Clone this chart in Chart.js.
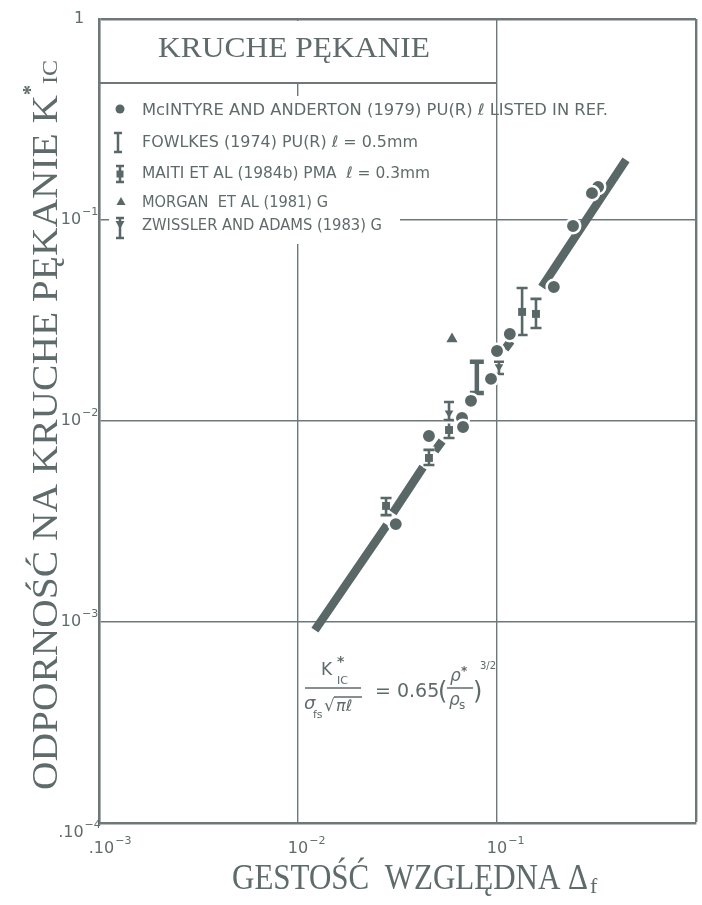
<!DOCTYPE html>
<html>
<head>
<meta charset="utf-8">
<script src="https://cdn.jsdelivr.net/npm/chart.js@4.4.0/dist/chart.umd.min.js"></script>
<style>
  html, body { margin: 0; padding: 0; background: #fff; }
  canvas { display: block; }
</style>
</head>
<body>
<canvas id="kruche" width="702" height="905"></canvas>
<script>
// tick values and labels (base + exponent)
const xTickVals = [0.001, 0.01, 0.1, 1];
const xTickBase = ['.10', '10', '10', ''];
const xTickExp = ['\u22123', '\u22122', '\u22121', ''];
const yTickVals = [1, 0.1, 0.01, 0.001, 0.0001];
const yTickBase = ['1', '10', '10', '10', '.10'];
const yTickExp = ['', '\u22121', '\u22122', '\u22123', '\u22124'];

// McIntyre and Anderton (1979) - filled circles
const mcintyreX = [0.322, 0.300, 0.241, 0.193, 0.116, 0.100, 0.0933, 0.0740, 0.0667, 0.0675, 0.0455, 0.0310];
const mcintyreY = [0.146, 0.136, 0.0933, 0.0464, 0.0271, 0.0223, 0.0162, 0.0126, 0.01035, 0.00933, 0.00842, 0.00307];

// Fowlkes (1974) - plain error bar
const fowlkesX = [0.0792];
const fowlkesLo = [0.01378];
const fowlkesHi = [0.0197];

// Maiti et al (1984b) - error bar with square
const maitiX = [0.0277, 0.0455, 0.0574, 0.1337, 0.157];
const maitiY = [0.00378, 0.00655, 0.00902, 0.0349, 0.0341];
const maitiLo = [0.0034, 0.00604, 0.00823, 0.0268, 0.0290];
const maitiHi = [0.00414, 0.00718, 0.0101, 0.0459, 0.0405];

// Morgan et al (1981) - triangle
const morganX = [0.0594];
const morganY = [0.0256];

// Zwissler and Adams (1983) - error bar with down triangle
const zwisslerX = [0.0574, 0.1023];
const zwisslerY = [0.01096, 0.0186];
const zwisslerLo = [0.0101, 0.01714];
const zwisslerHi = [0.01244, 0.0197];

// fitted line, visible pieces (null = break)
const fitX = [0.01216, 0.0280, null, 0.0300, 0.0425, null, 0.0487, 0.0530, null, 0.1096, 0.1175, null, 0.168, 0.445];
const fitY = [0.000912, 0.00304, null, 0.00349, 0.00590, null, 0.00709, 0.00795, null, 0.0228, 0.0250, null, 0.0464, 0.199];

const INK = '#5a6767';
const TEXT = '#5f6b6b';
const GRID = '#6e7878';

const pts = (xs, ys) => xs.map((x, i) => ({ x: x, y: ys[i] }));

function fitText(ctx, text, x, y, w, font) {
    ctx.font = font;
    const m = ctx.measureText(text).width;
    ctx.save();
    ctx.translate(x, y);
    ctx.scale(w / m, 1);
    ctx.fillText(text, 0, 0);
    ctx.restore();
}

function errorBar(ctx, x, yTop, yBot, half, width) {
    ctx.lineCap = 'butt';
    [['#fff', width + 4], [INK, width]].forEach(([c, lw]) => {
        ctx.strokeStyle = c;
        ctx.lineWidth = lw;
        ctx.beginPath();
        ctx.moveTo(x, yTop); ctx.lineTo(x, yBot);
        ctx.moveTo(x - half, yTop); ctx.lineTo(x + half, yTop);
        ctx.moveTo(x - half, yBot); ctx.lineTo(x + half, yBot);
        ctx.stroke();
    });
}

function tri(ctx, x, y, r, down) {
    const s = down ? -1 : 1;
    ctx.beginPath();
    ctx.moveTo(x, y - s * r);
    ctx.lineTo(x + r * 0.9, y + s * r * 0.6);
    ctx.lineTo(x - r * 0.9, y + s * r * 0.6);
    ctx.closePath();
    ctx.fill();
}

function drawErrorBars(chart) {
    const ctx = chart.ctx, xs = chart.scales.x, ys = chart.scales.y;
    ctx.save();
    fowlkesX.forEach((v, i) => {
        errorBar(ctx, xs.getPixelForValue(v), ys.getPixelForValue(fowlkesHi[i]), ys.getPixelForValue(fowlkesLo[i]), 7, 4.5);
    });
    maitiX.forEach((v, i) => {
        errorBar(ctx, xs.getPixelForValue(v), ys.getPixelForValue(maitiHi[i]), ys.getPixelForValue(maitiLo[i]), 5.5, 2.6);
    });
    zwisslerX.forEach((v, i) => {
        errorBar(ctx, xs.getPixelForValue(v), ys.getPixelForValue(zwisslerHi[i]), ys.getPixelForValue(zwisslerLo[i]), 5, 2.6);
    });
    ctx.restore();
}

// label like 10^-2: centre of the whole label at cx, or centre of "10" at cx
function drawPow(ctx, base, exp, cx, baseY, align) {
    const big = '16px "DejaVu Sans"', small = '11px "DejaVu Sans"';
    ctx.font = big;
    const bw = ctx.measureText(base).width;
    const tw = ctx.measureText('10').width;
    ctx.font = small;
    const ew = ctx.measureText(exp).width;
    const x0 = align === 'center' ? cx - (bw + ew) / 2 : cx - tw / 2 - (bw - tw);
    ctx.font = big;
    ctx.fillText(base, x0, baseY);
    ctx.font = small;
    ctx.fillText(exp, x0 + bw + 1, baseY - 9);
}

const overlay = {
    id: 'overlay',
    beforeDatasetsDraw(chart) {
        const ctx = chart.ctx;
        ctx.save();
        ctx.fillStyle = '#fff';
        ctx.fillRect(101, 21, 394, 61);     // title box
        ctx.fillRect(109, 96, 291, 148);    // legend area
        ctx.strokeStyle = GRID;
        ctx.lineWidth = 1.8;
        ctx.beginPath();
        ctx.moveTo(99, 83); ctx.lineTo(497, 83);
        ctx.stroke();
        ctx.restore();
    },
    afterDatasetDraw(chart, args) {
        if (args.index === 0) drawErrorBars(chart);
    },
    afterDraw(chart) {
        const ctx = chart.ctx, xs = chart.scales.x, ys = chart.scales.y;
        ctx.save();
        ctx.fillStyle = TEXT;
        ctx.textBaseline = 'alphabetic';
        ctx.textAlign = 'left';

        // tick labels
        yTickVals.forEach((v, i) => {
            const gy = ys.getPixelForValue(v);
            const by = i === yTickVals.length - 1 ? gy + 14 : gy + 4;
            drawPow(ctx, yTickBase[i], yTickExp[i], 79, by, 'center');
        });
        xTickVals.forEach((v, i) => {
            if (!xTickBase[i]) return;
            const gx = xs.getPixelForValue(v);
            drawPow(ctx, xTickBase[i], xTickExp[i], i === 0 ? gx + 5 : gx, 853, 'base');
        });

        // title in box
        fitText(ctx, 'KRUCHE PĘKANIE', 158, 57, 272, '30px "Liberation Serif"');

        // axis titles
        fitText(ctx, 'GESTOŚĆ  WZGLĘDNA Δ', 232, 889, 356, '36px "Liberation Serif"');
        ctx.font = '22px "Liberation Serif"';
        ctx.fillText('f', 590, 893);

        ctx.save();
        ctx.translate(57, 790);
        ctx.rotate(-Math.PI / 2);
        fitText(ctx, 'ODPORNOŚĆ NA KRUCHE PĘKANIE K', 0, 0, 695, '36px "Liberation Serif"');
        ctx.font = 'bold 20px "Liberation Serif"';
        ctx.fillText('*', 695, -20);
        fitText(ctx, 'IC', 706, 0, 24, '20px "Liberation Serif"');
        ctx.restore();

        // legend
        const rows = [
            ['McINTYRE AND ANDERTON (1979) PU(R) ℓ LISTED IN REF.', 115, 466],
            ['FOWLKES (1974) PU(R) ℓ = 0.5mm', 147, 276],
            ['MAITI ET AL (1984b) PMA  ℓ = 0.3mm', 178, 288],
            ['MORGAN  ET AL (1981) G', 207, 186],
            ['ZWISSLER AND ADAMS (1983) G', 230, 240]
        ];
        rows.forEach(r => fitText(ctx, r[0], 142, r[1], r[2], '16px "DejaVu Sans"'));

        ctx.fillStyle = INK;
        ctx.beginPath(); ctx.arc(120, 109, 4.5, 0, Math.PI * 2); ctx.fill();
        errorBar(ctx, 118, 133, 152, 4, 2.5);
        errorBar(ctx, 120, 166, 182, 4, 2.5);
        ctx.fillStyle = INK;
        ctx.fillRect(116.5, 170.5, 7, 7);
        tri(ctx, 121, 202, 5, false);
        errorBar(ctx, 120, 218, 238, 4, 2.5);
        ctx.fillStyle = INK;
        tri(ctx, 120, 224, 5, true);

        // equation
        ctx.fillStyle = TEXT;
        ctx.strokeStyle = TEXT;
        ctx.lineWidth = 1.5;
        ctx.font = '17px "DejaVu Sans"';
        ctx.fillText('K', 321, 675);
        ctx.font = 'bold 14px "DejaVu Sans"';
        ctx.fillText('*', 337, 666);
        ctx.font = '11px "DejaVu Sans"';
        ctx.fillText('IC', 337, 684);
        ctx.beginPath(); ctx.moveTo(305, 688); ctx.lineTo(361, 688); ctx.stroke();
        ctx.font = 'italic 18px "DejaVu Sans"';
        ctx.fillText('σ', 304, 709);
        ctx.font = '11px "DejaVu Sans"';
        ctx.fillText('fs', 313, 718);
        ctx.font = '17px "DejaVu Sans"';
        ctx.fillText('√', 324, 711);
        ctx.beginPath(); ctx.moveTo(334, 697); ctx.lineTo(362, 697); ctx.stroke();
        ctx.font = 'italic 16px "DejaVu Sans"';
        ctx.fillText('πℓ', 336, 711);
        ctx.font = '19px "DejaVu Sans"';
        ctx.fillText('= 0.65', 375, 697);
        ctx.font = '24px "DejaVu Sans"';
        ctx.fillText('(', 438, 699);
        ctx.font = 'italic 17px "DejaVu Sans"';
        ctx.fillText('ρ', 450, 681);
        ctx.font = 'bold 12px "DejaVu Sans"';
        ctx.fillText('*', 461, 675);
        ctx.beginPath(); ctx.moveTo(447, 688); ctx.lineTo(473, 688); ctx.stroke();
        ctx.font = 'italic 17px "DejaVu Sans"';
        ctx.fillText('ρ', 449, 705);
        ctx.font = '12px "DejaVu Sans"';
        ctx.fillText('s', 459, 709);
        ctx.font = '24px "DejaVu Sans"';
        ctx.fillText(')', 473, 699);
        ctx.font = '10px "DejaVu Sans"';
        ctx.fillText('3/2', 480, 669);

        ctx.restore();
    }
};

new Chart(document.getElementById('kruche'), {
    type: 'scatter',
    data: {
        datasets: [
            {
                type: 'line',
                label: 'fit',
                data: pts(fitX, fitY),
                borderColor: INK,
                borderWidth: 8.5,
                borderCapStyle: 'butt',
                pointRadius: 0,
                spanGaps: false,
                tension: 0,
                order: 10
            },
            {
                label: 'McIntyre and Anderton (1979)',
                data: pts(mcintyreX, mcintyreY),
                pointStyle: 'circle',
                pointRadius: 7.2,
                pointBorderWidth: 2.5,
                pointBackgroundColor: INK,
                pointBorderColor: '#fff',
                order: 1
            },
            {
                label: 'Maiti et al (1984b)',
                data: pts(maitiX, maitiY),
                pointStyle: 'rect',
                pointRadius: 5.6,
                pointBorderWidth: 0,
                pointBackgroundColor: INK,
                order: 1
            },
            {
                label: 'Morgan et al (1981)',
                data: pts(morganX, morganY),
                pointStyle: 'triangle',
                pointRadius: 6.5,
                pointBorderWidth: 0,
                pointBackgroundColor: INK,
                order: 1
            },
            {
                label: 'Zwissler and Adams (1983)',
                data: pts(zwisslerX, zwisslerY),
                pointStyle: 'triangle',
                rotation: 180,
                pointRadius: 5,
                pointBorderWidth: 0,
                pointBackgroundColor: INK,
                order: 1
            }
        ]
    },
    options: {
        responsive: false,
        animation: false,
        events: [],
        layout: { autoPadding: false, padding: { top: 19, right: 6, left: 0, bottom: 0 } },
        plugins: {
            legend: { display: false },
            tooltip: { enabled: false },
            title: { display: false }
        },
        scales: {
            x: {
                type: 'logarithmic',
                min: 0.001,
                max: 1,
                afterBuildTicks: s => { s.ticks = xTickVals.map(v => ({ value: v })); },
                afterFit: s => { s.height = 82; },
                ticks: { display: false },
                grid: {
                    color: GRID,
                    lineWidth: c => (c.tick && c.tick.value === 1 ? 2.4 : 1.4),
                    drawTicks: false
                },
                border: { color: GRID, width: 2.6 }
            },
            y: {
                type: 'logarithmic',
                min: 0.0001,
                max: 1,
                afterBuildTicks: s => { s.ticks = yTickVals.map(v => ({ value: v })); },
                afterFit: s => { s.width = 99; },
                ticks: { display: false },
                grid: {
                    color: GRID,
                    lineWidth: c => (c.tick && c.tick.value === 1 ? 2.4 : 1.4),
                    drawTicks: false
                },
                border: { color: GRID, width: 2.6 }
            }
        }
    },
    plugins: [overlay]
});
</script>
</body>
</html>
